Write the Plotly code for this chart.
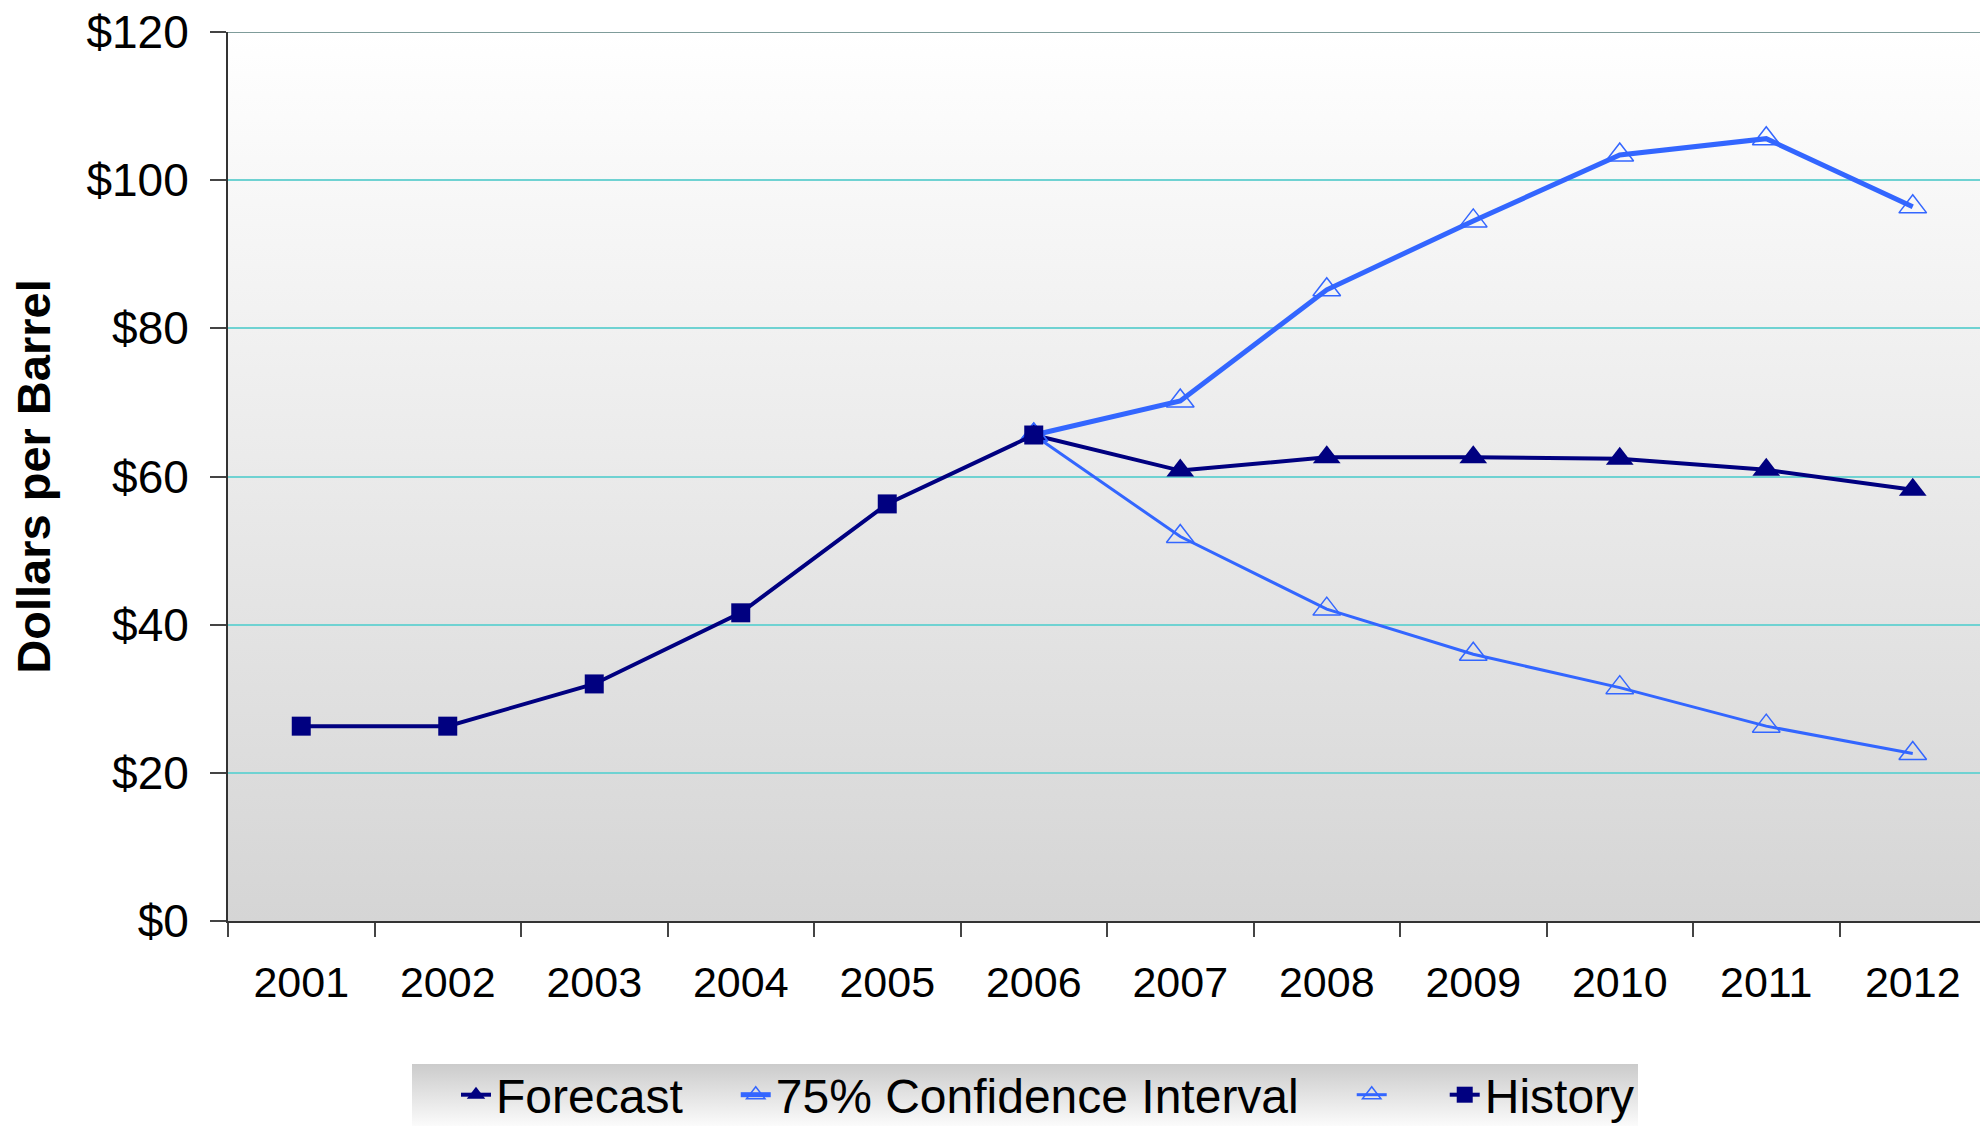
import base64
import plotly.graph_objects as go

# Crude oil price: history and forecast with 75% confidence band
years = ["2001", "2002", "2003", "2004", "2005", "2006",
         "2007", "2008", "2009", "2010", "2011", "2012"]

history_years = years[:6]
history = [26.3, 26.3, 32.0, 41.6, 56.3, 65.6]

forecast_years = years[5:]
forecast = [65.6, 60.8, 62.6, 62.6, 62.4, 60.9, 58.2]
ci_upper = [65.6, 70.2, 85.2, 94.5, 103.4, 105.6, 96.4]
ci_lower = [65.6, 51.9, 42.1, 36.0, 31.5, 26.3, 22.6]

y_ticks = [0, 20, 40, 60, 80, 100, 120]
y_tick_text = ["$0", "$20", "$40", "$60", "$80", "$100", "$120"]

NAVY = "#000080"
BLUE = "#3366ff"
FONT = "Liberation Sans, Arial, sans-serif"
PAD = "\u2002\u2002"  # trailing en spaces widen each legend entry

W, H = 1980, 1126
L, R, T, B = 228, 0, 32, 205
plot_w = W - L - R
plot_h = H - T - B
cat_w = 146.5


def gradient_uri(top, bottom):
    svg = (
        "<svg xmlns='http://www.w3.org/2000/svg' width='100' height='100' "
        "preserveAspectRatio='none'><defs><linearGradient id='g' x1='0' y1='0' "
        "x2='0' y2='1'><stop offset='0' stop-color='%s'/><stop offset='1' "
        "stop-color='%s'/></linearGradient></defs><rect width='100' height='100' "
        "fill='url(#g)'/></svg>" % (top, bottom)
    )
    return "data:image/svg+xml;base64," + base64.b64encode(svg.encode()).decode()


def px_x(px):
    return (px - L) / plot_w


def px_y(py):
    return (H - B - py) / plot_h


fig = go.Figure()

fig.add_trace(go.Scatter(
    x=forecast_years, y=forecast, name="Forecast" + PAD, mode="lines+markers",
    line=dict(color=NAVY, width=4),
    marker=dict(symbol="triangle-up", size=24, color=NAVY),
))
fig.add_trace(go.Scatter(
    x=forecast_years, y=ci_upper, name="75% Confidence Interval" + PAD, mode="lines+markers",
    line=dict(color=BLUE, width=5),
    marker=dict(symbol="triangle-up-open", size=24, color=BLUE, line=dict(width=1.5, color=BLUE)),
))
fig.add_trace(go.Scatter(
    x=forecast_years, y=ci_lower, name=PAD, mode="lines+markers",
    line=dict(color=BLUE, width=3),
    marker=dict(symbol="triangle-up-open", size=24, color=BLUE, line=dict(width=1.5, color=BLUE)),
))
fig.add_trace(go.Scatter(
    x=history_years, y=history, name="History", mode="lines+markers",
    line=dict(color=NAVY, width=4),
    marker=dict(symbol="square", size=19, color=NAVY),
))

# Plot-area gradient and legend gradient backgrounds
images = [
    dict(source=gradient_uri("#ffffff", "#d5d5d5"), xref="paper", yref="paper",
         x=0, y=1, sizex=1, sizey=1, xanchor="left", yanchor="top",
         sizing="stretch", layer="below"),
    dict(source=gradient_uri("#cbcbcb", "#fbfbfb"), xref="paper", yref="paper",
         x=px_x(412), y=px_y(1064), sizex=(1638 - 412) / plot_w, sizey=62 / plot_h,
         xanchor="left", yanchor="top", sizing="stretch", layer="below"),
]

fig.update_layout(
    width=W, height=H,
    margin=dict(l=L, r=R, t=T, b=B, autoexpand=False),
    paper_bgcolor="white",
    plot_bgcolor="rgba(0,0,0,0)",
    font=dict(family=FONT, color="black"),
    images=images,
    showlegend=True,
    legend=dict(
        orientation="h", x=px_x(456), xanchor="left", y=px_y(1057), yanchor="top",
        bgcolor="rgba(0,0,0,0)", font=dict(size=48, family=FONT, color="black"),
        itemwidth=30, tracegroupgap=0,
    ),
    shapes=[dict(type="line", xref="paper", yref="y", x0=0, x1=1, y0=120, y1=120,
                 line=dict(color="#7f9c9a", width=2), layer="above")],
)

fig.update_xaxes(
    type="category", categoryorder="array", categoryarray=years,
    range=[-0.5, -0.5 + plot_w / cat_w],
    showgrid=False, showline=True, linecolor="#333333", linewidth=2,
    ticks="outside", tickson="boundaries", ticklen=14, tickwidth=1.5, tickcolor="#444444",
    tickfont=dict(size=43, family=FONT, color="black"),
    ticklabelstandoff=22,
    zeroline=False, automargin=False,
)
fig.update_yaxes(
    range=[0, 120], tickvals=y_ticks, ticktext=y_tick_text,
    showgrid=True, gridcolor="#6fd2d2", gridwidth=1.5,
    showline=True, linecolor="#333333", linewidth=2,
    ticks="outside", ticklen=16, tickwidth=1.5, tickcolor="#444444",
    tickfont=dict(size=46, family=FONT, color="black"),
    ticklabelstandoff=12,
    zeroline=False, automargin=False,
    title=dict(text="<b>Dollars per Barrel</b>", font=dict(size=47, family=FONT, color="black"),
               standoff=21),
)

fig.write_html("out.html")
